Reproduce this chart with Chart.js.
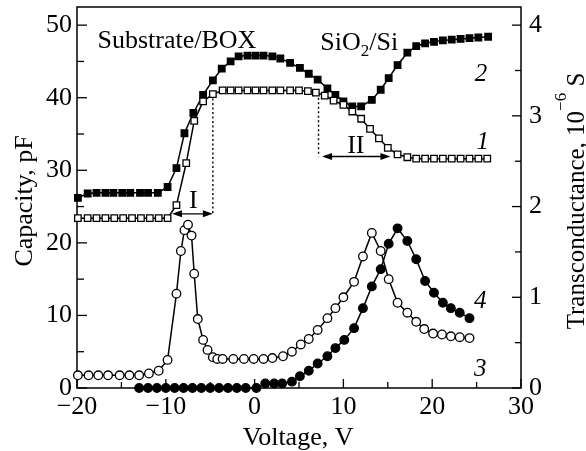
<!DOCTYPE html>
<html>
<head>
<meta charset="utf-8">
<script src="https://cdn.jsdelivr.net/npm/chart.js@4.4.1/dist/chart.umd.min.js"></script>
<style>
  html, body { margin: 0; padding: 0; background: #fff; }
  #wrap { width: 586px; height: 451px; }
</style>
</head>
<body>
<div id="wrap"><canvas id="grafico" width="586" height="451"></canvas></div>
<script>
// --- Dados ---
// curva 1: capacidade (quadrados vazios), pF
const tensao1 = [-19.9, -18.8, -17.8, -16.8, -15.8, -14.8, -13.8, -12.8, -11.8, -10.8, -9.8, -8.8, -7.7, -6.8, -5.8, -4.7,
  -3.6, -2.7, -1.8, -0.8, 0.1, 1, 2, 2.9, 4, 5, 6, 6.9, 7.9, 8.9, 10, 11, 12, 13, 14, 15, 16.1, 17.2,
  18.2, 19.2, 20.2, 21.2, 22.2, 23.2, 24.2, 25.2, 26.2];
const capacidade1 = [23.4, 23.4, 23.4, 23.4, 23.4, 23.4, 23.4, 23.4, 23.4, 23.4, 23.4, 25.2, 31, 36.8, 39.5, 40.5,
  41, 41, 41, 41, 41, 41, 41, 41, 41, 41, 40.9, 40.7, 40.3, 39.6, 39, 38.1, 37.1, 35.7, 34.4, 33.1, 32.2, 31.8,
  31.6, 31.6, 31.6, 31.6, 31.6, 31.6, 31.6, 31.6, 31.6];

// curva 2: capacidade (quadrados cheios), pF
const tensao2 = [-19.9, -18.8, -17.8, -16.8, -15.9, -14.9, -14, -12.9, -12, -10.9, -9.8, -8.8, -7.9, -6.9, -5.8, -4.7,
  -3.7, -2.7, -1.8, -0.8, 0.1, 1, 2, 2.9, 4, 5.1, 6.1, 7.1, 8.2, 9.1, 10, 11, 12, 13.2, 14.2, 15.1, 16.1, 17.2,
  18.2, 19.2, 20.2, 21.2, 22.2, 23.2, 24.2, 25.2, 26.3];
const capacidade2 = [26.2, 26.8, 26.9, 26.9, 26.9, 26.9, 26.9, 26.9, 26.9, 26.9, 27.7, 30.3, 35.1, 37.9, 40.4, 42.4,
  44, 45, 45.7, 45.8, 45.8, 45.8, 45.7, 45.4, 44.8, 44.1, 43.3, 42.5, 41.3, 40.4, 39.5, 38.8, 38.8, 39.7, 41.1, 42.7, 44.5, 46.2,
  47.1, 47.5, 47.7, 47.9, 48, 48.1, 48.2, 48.3, 48.4];

// curva 3: transcondutância (círculos vazios), 10^-6 S
const tensao3 = [-19.9, -18.7, -17.6, -16.5, -15.2, -14.1, -13, -11.9, -10.8, -9.8, -8.8, -8.3, -7.9, -7.5, -7.1, -6.8,
  -6.4, -5.8, -5.3, -4.7, -4.2, -3.6, -2.4, -1.2, -0.1, 1, 2, 3.2, 4.2, 5.2, 6.1, 7.1, 8.2, 9.1, 10, 11.2, 12.2,
  13.2, 14.2, 15.1, 16.1, 17.2, 18.2, 19.1, 20.1, 21.1, 22.1, 23.1, 24.2];
const transcond3 = [0.14, 0.14, 0.14, 0.14, 0.14, 0.14, 0.14, 0.16, 0.19, 0.31, 1.04, 1.51, 1.74, 1.8, 1.68, 1.26,
  0.76, 0.53, 0.42, 0.34, 0.32, 0.32, 0.32, 0.32, 0.32, 0.32, 0.33, 0.35, 0.4, 0.48, 0.54, 0.64, 0.77, 0.88, 1.0, 1.17, 1.45,
  1.71, 1.51, 1.2, 0.94, 0.83, 0.73, 0.65, 0.6, 0.59, 0.57, 0.56, 0.55];

// curva 4: transcondutância (círculos cheios), 10^-6 S
const tensao4 = [-13, -12, -11, -10, -9, -8, -7, -6, -5, -4, -3, -2, -1, 0.2, 1.2, 2.2, 3.1, 4.2, 5.1, 6.1, 7.1, 8.2,
  9.1, 10.1, 11.2, 12.2, 13.2, 14.2, 15.1, 16.1, 17.2, 18.2, 19.2, 20.2, 21.2, 22.1, 23.1, 24.2];
const transcond4 = [0, 0, 0, 0, 0, 0, 0, 0, 0, 0, 0, 0, 0, 0, 0.05, 0.05, 0.05, 0.07, 0.13, 0.19, 0.27, 0.35,
  0.44, 0.53, 0.66, 0.88, 1.12, 1.31, 1.59, 1.76, 1.62, 1.42, 1.18, 1.05, 0.94, 0.88, 0.83, 0.77];

// eixos
const ticksX = [-20, -10, 0, 10, 20, 30];
const ticksCap = [0, 10, 20, 30, 40, 50];
const ticksTrans = [0, 1, 2, 3, 4];

// marcações I e II: [tensão início, tensão fim, nível da seta, topo da linha pontilhada]
const faixaI = [-9.3, -4.7, 24, 40.5];
const faixaII = [7.2, 15.3, 31.9, 40.6];

const serif = '"Liberation Serif", "DejaVu Serif", serif';

const pontos = (xs, ys) => xs.map((v, i) => ({ x: v, y: ys[i] }));

const serie = (xs, ys, eixo, estilo, cheio, raio) => ({
    data: pontos(xs, ys),
    yAxisID: eixo,
    borderColor: '#000',
    borderWidth: 1.5,
    pointStyle: estilo,
    pointRadius: raio,
    pointBorderWidth: 1.3,
    pointBorderColor: '#000',
    pointBackgroundColor: cheio ? '#000' : '#fff',
    tension: 0,
    clip: false
});

// --- Moldura, marcas internas, setas e textos ---
const desenhoExtra = {
    id: 'desenhoExtra',
    beforeDatasetsDraw(chart) {
        const { ctx, chartArea: a, scales: { x, y, y2 } } = chart;
        ctx.save();
        ctx.strokeStyle = '#000';
        ctx.lineWidth = 1.5;
        ctx.strokeRect(a.left, a.top, a.right - a.left, a.bottom - a.top);

        const traco = (x1, y1, x2, y2_) => {
            ctx.beginPath(); ctx.moveTo(x1, y1); ctx.lineTo(x2, y2_); ctx.stroke();
        };
        ctx.lineWidth = 1.3;
        // marcas do eixo x (a cada 5 V)
        for (let v = ticksX[0]; v <= ticksX[ticksX.length - 1]; v += 5) {
            const px = x.getPixelForValue(v);
            traco(px, a.bottom, px, a.bottom - (v % 10 === 0 ? 9 : 6));
        }
        // eixo esquerdo (a cada 5 pF)
        for (let v = 0; v <= 50; v += 5) {
            const py = y.getPixelForValue(v);
            traco(a.left, py, a.left + (v % 10 === 0 ? 10 : 7), py);
        }
        // eixo direito (a cada 0,5)
        for (let v = 0; v <= 4; v += 0.5) {
            const py = y2.getPixelForValue(v);
            traco(a.right, py, a.right - (Number.isInteger(v) ? 9 : 6), py);
        }

        // linhas pontilhadas e setas
        const seta = (ini, fim, nivel) => {
            const x1 = x.getPixelForValue(ini), x2 = x.getPixelForValue(fim), py = y.getPixelForValue(nivel);
            ctx.setLineDash([]);
            ctx.lineWidth = 1.3;
            traco(x1 + 4, py, x2 - 4, py);
            ctx.fillStyle = '#000';
            [[x1, 1], [x2, -1]].forEach(([px, d]) => {
                ctx.beginPath();
                ctx.moveTo(px, py);
                ctx.lineTo(px + d * 10, py - 3.5);
                ctx.lineTo(px + d * 10, py + 3.5);
                ctx.closePath();
                ctx.fill();
            });
        };
        const pontilhado = (v, de, ate) => {
            const px = x.getPixelForValue(v);
            ctx.setLineDash([2, 2.5]);
            ctx.lineWidth = 1.4;
            traco(px, y.getPixelForValue(de), px, y.getPixelForValue(ate));
            ctx.setLineDash([]);
        };
        pontilhado(faixaI[1], faixaI[3], faixaI[2]);
        seta(faixaI[0], faixaI[1], faixaI[2]);
        pontilhado(faixaII[0], faixaII[3], faixaII[2]);
        seta(faixaII[0] + 0.4, faixaII[1], faixaII[2]);
        ctx.restore();
    },
    afterDraw(chart) {
        const { ctx, chartArea: a, scales: { x, y } } = chart;
        ctx.save();
        ctx.fillStyle = '#000';
        ctx.textBaseline = 'alphabetic';
        const texto = (t, v, c, fonte, alinh) => {
            ctx.font = fonte;
            ctx.textAlign = alinh || 'center';
            ctx.fillText(t, x.getPixelForValue(v), y.getPixelForValue(c));
        };
        const normal = '26px ' + serif;
        const italico = 'italic 25px ' + serif;

        texto('Substrate/BOX', -17.7, 46.9, normal, 'left');
        // SiO2/Si com índice
        ctx.font = normal; ctx.textAlign = 'left';
        let px = x.getPixelForValue(7.4);
        const py = y.getPixelForValue(46.6);
        ctx.fillText('SiO', px, py); px += ctx.measureText('SiO').width;
        ctx.font = '17px ' + serif; ctx.fillText('2', px, py + 6); px += ctx.measureText('2').width;
        ctx.font = normal; ctx.fillText('/Si', px, py);

        texto('2', 25.5, 42.3, italico);
        texto('1', 25.7, 32.9, italico);
        texto('4', 25.4, 11.0, italico);
        texto('3', 25.4, 1.6, italico);
        texto('I', -6.9, 24.8, normal);
        texto('II', 11.4, 32.4, normal);

        // título do eixo esquerdo
        ctx.font = normal; ctx.textAlign = 'center';
        ctx.save();
        ctx.translate(32, 201);
        ctx.rotate(-Math.PI / 2);
        ctx.fillText('Capacity, pF', 0, 0);
        ctx.restore();

        // título do eixo direito com expoente
        ctx.save();
        ctx.translate(584, 201);
        ctx.rotate(-Math.PI / 2);
        ctx.textAlign = 'left';
        const p1 = 'Transconductance, 10', p2 = '\u22126', p3 = ' S';
        ctx.font = '25px ' + serif; const w1 = ctx.measureText(p1).width, w3 = ctx.measureText(p3).width;
        ctx.font = '17px ' + serif; const w2 = ctx.measureText(p2).width;
        let tx = -(w1 + w2 + w3) / 2;
        ctx.font = '25px ' + serif; ctx.fillText(p1, tx, 0); tx += w1;
        ctx.font = '17px ' + serif; ctx.fillText(p2, tx, -18); tx += w2;
        ctx.font = '25px ' + serif; ctx.fillText(p3, tx, 0);
        ctx.restore();

        // título do eixo x
        ctx.font = normal; ctx.textAlign = 'center';
        ctx.fillText('Voltage, V', x.getPixelForValue(4.9), 445);
        ctx.restore();
    }
};

const fonteTicks = { family: serif, size: 26 };
const semMargem = (s) => { s.paddingTop = 0; s.paddingBottom = 0; };

const grafico = new Chart(document.getElementById('grafico'), {
    type: 'line',
    data: {
        datasets: [
            serie(tensao1, capacidade1, 'y', 'rect', false, 4.6),
            serie(tensao2, capacidade2, 'y', 'rect', true, 4.6),
            serie(tensao3, transcond3, 'y2', 'circle', false, 4.3),
            serie(tensao4, transcond4, 'y2', 'circle', true, 4.3)
        ]
    },
    options: {
        responsive: false,
        animation: false,
        devicePixelRatio: 1,
        layout: { padding: { top: 7, left: 0, right: 0, bottom: 0 } },
        plugins: { legend: { display: false }, tooltip: { enabled: false } },
        scales: {
            x: {
                type: 'linear',
                min: -20, max: 30,
                grid: { display: false, drawTicks: false },
                border: { display: false },
                afterBuildTicks: (s) => { s.ticks = ticksX.map(v => ({ value: v })); },
                afterFit: (s) => { s.height = 63; s.paddingLeft = 0; s.paddingRight = 0; },
                ticks: {
                    color: '#000', font: fonteTicks, padding: 4, maxRotation: 0,
                    callback: (v) => (v < 0 ? '\u2212' + Math.abs(v) : String(v))
                }
            },
            y: {
                type: 'linear', position: 'left',
                min: 0, max: 52.5,
                grid: { display: false, drawTicks: false },
                border: { display: false },
                afterBuildTicks: (s) => { s.ticks = ticksCap.map(v => ({ value: v })); },
                afterFit: (s) => { s.width = 77; semMargem(s); },
                ticks: { color: '#000', font: fonteTicks, padding: 5 }
            },
            y2: {
                type: 'linear', position: 'right',
                min: 0, max: 4.2,
                grid: { display: false, drawTicks: false },
                border: { display: false },
                afterBuildTicks: (s) => { s.ticks = ticksTrans.map(v => ({ value: v })); },
                afterFit: (s) => { s.width = 65; semMargem(s); },
                ticks: { color: '#000', font: fonteTicks, padding: 8 }
            }
        }
    },
    plugins: [desenhoExtra]
});
</script>
</body>
</html>
